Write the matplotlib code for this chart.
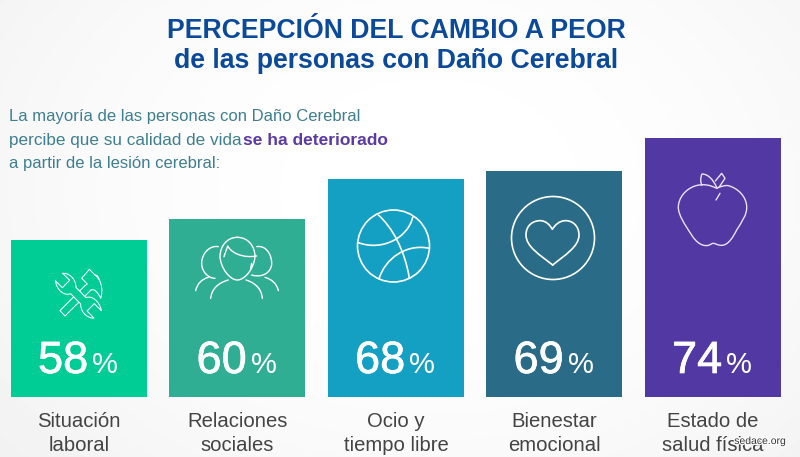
import numpy as np
import matplotlib
matplotlib.use("Agg")
import matplotlib.pyplot as plt
from matplotlib.path import Path
from matplotlib.patches import PathPatch, Circle
import matplotlib.patheffects as pe
import re

categories = ["Situación\nlaboral", "Relaciones\nsociales", "Ocio y\ntiempo libre", "Bienestar\nemocional", "Estado de\nsalud física"]
percent_values = [58, 60, 68, 69, 74]
bar_heights = [157, 178, 218, 226, 259]
bar_colors = ["#00cc96", "#30ae94", "#14a0c2", "#2a6c87", "#5238a2"]
title_lines = ["PERCEPCIÓN DEL CAMBIO A PEOR", "de las personas con Daño Cerebral"]

plt.rcParams['font.family'] = ['Liberation Sans', 'DejaVu Sans']
W, H = 800, 457
fig = plt.figure(figsize=(8, 4.57), dpi=100)

# background
bg = fig.add_axes([0, 0, 1, 1], zorder=0)
yy, xx = np.mgrid[0:H, 0:W]
d = np.sqrt(((xx - 430) / 560) ** 2 + ((yy - 190) / 420) ** 2)
v = 1 - 0.055 * np.clip(d, 0, 1.3) ** 2
bg.imshow(v, cmap='gray', vmin=0, vmax=1, aspect='auto', extent=(0, W, H, 0))
bg.axis('off')

# bars: category index on x, picture height on y, baseline at pixel row 397
ax = fig.add_axes([0, 0, 1, 1], zorder=1)
ax.patch.set_alpha(0)
ax.set_xlim(-79 / 158.5, (W - 79) / 158.5)
ax.set_ylim(397 - H, 397)
ax.axis('off')
xs = np.arange(len(categories))
ax.bar(xs, bar_heights, width=136 / 158.5, color=bar_colors, linewidth=0)

fig.canvas.draw()
r = fig.canvas.get_renderer()

def T(x, y, s, **kw):
    kw.setdefault('va', 'baseline')
    return fig.text(x / W, 1 - y / H, s, **kw)

for y, s in zip([38, 68], title_lines):
    T(396, y, s, fontsize=19.2, fontweight='bold', color='#0b4a9b', ha='center')

intro = '#3e7f8f'
T(9, 120.5, "La mayoría de las personas con Daño Cerebral", fontsize=12.0, color=intro)
T(9, 145, "percibe que su calidad de vida", fontsize=12.3, color=intro)
T(243, 145, "se ha deteriorado", fontsize=12.5, fontweight='bold', color='#5b3aa5')
T(9, 168, "a partir de la lesión cerebral:", fontsize=12.0, color=intro)

for i, (lab, val) in enumerate(zip(categories, percent_values)):
    cx = 79 + 158.5 * i
    a, b = lab.split("\n")
    T(cx, 427, a, fontsize=14.6, color='#444444', ha='center')
    T(cx, 451, b, fontsize=14.6, color='#444444', ha='center')
    n = T(cx - 41, 373, str(val), fontsize=32.5, color='white', ha='left', zorder=5,
          path_effects=[pe.withStroke(linewidth=0.5, foreground='white')])
    nx = n.get_window_extent(r).x1
    T(nx + 4, 373, "%", fontsize=21, color='white', ha='left', zorder=5)

T(760, 444, "sedace.org", fontsize=7.5, color='#333333', ha='center', zorder=6,
  path_effects=[pe.withStroke(linewidth=1.5, foreground='white')])

# icons, in picture pixels
ic = fig.add_axes([0, 0, 1, 1], zorder=3)
ic.patch.set_alpha(0)
ic.set_xlim(0, W)
ic.set_ylim(H, 0)
ic.axis('off')

def svg(d, ox, oy, s=1 / 3):
    toks = re.findall(r'[MCLZ]|-?[\d.]+', d)
    verts, codes = [], []
    i = 0
    cmd = None
    while i < len(toks):
        if toks[i] in 'MCLZ':
            cmd = toks[i]
            i += 1
            if cmd == 'Z':
                verts.append((0, 0))
                codes.append(Path.CLOSEPOLY)
            continue
        n = {'M': 1, 'L': 1, 'C': 3}[cmd]
        for k in range(n):
            verts.append((ox + s * float(toks[i]), oy + s * float(toks[i + 1])))
            i += 2
            codes.append({'M': Path.MOVETO, 'L': Path.LINETO, 'C': Path.CURVE4}[cmd])
    return Path(verts, codes)

def draw(d, ox, oy, lw=1.0, color='white', s=1 / 3):
    ic.add_patch(PathPatch(svg(d, ox, oy, s), fc='none', ec=color, lw=lw, capstyle='round', joinstyle='round'))

# ball
ic.add_patch(Circle((393.5, 246), 36, fc='none', ec='white', lw=1.2))
draw("M 175,255 C 215,290 255,360 268,445", 320, 130, 1.2)
draw("M 278,262 C 265,320 190,365 115,338", 320, 130, 1.2)
draw("M 177,447 C 195,385 260,340 328,355", 320, 130, 1.2)
# heart
ic.add_patch(Circle((553, 238), 41.5, fc='none', ec='white', lw=1.2))
draw("M 698,405 C 660,375 618,350 618,315 C 618,285 640,272 660,272 C 678,272 690,285 697,298 "
     "C 705,285 718,272 737,272 C 760,272 777,290 777,315 C 777,350 735,375 698,405", 320, 130, 1.2)
# apple
draw("M 1190,175 C 1170,165 1150,160 1125,168 C 1095,178 1075,205 1075,232 C 1075,255 1095,285 1115,315 "
     "C 1130,340 1150,350 1165,346 C 1172,344 1175,340 1180,340 C 1186,340 1192,346 1205,346 "
     "C 1225,346 1240,320 1250,300 C 1265,275 1282,255 1280,228 C 1278,200 1255,175 1225,167 "
     "C 1215,165 1200,170 1190,175", 320, 130, 1.0, '#e8e2f5')
draw("M 1190,172 C 1180,150 1165,132 1146,132 C 1140,145 1142,160 1146,166", 320, 130, 1.0, '#e8e2f5')
draw("M 1186,153 L 1205,130 L 1215,145 L 1197,172", 320, 130, 1.0, '#e8e2f5')
draw("M 1188,210 L 1200,190", 320, 130, 1.0, '#e8e2f5')
# people
for d in ["M 712,22 C 680,22 660,50 660,80 C 662,115 690,150 712,150 C 735,150 762,115 765,80 C 765,50 745,22 712,22",
          "M 672,80 L 683,48 C 695,70 730,85 770,78",
          "M 755,100 L 752,115",
          "M 655,50 C 630,45 605,70 605,100 C 605,125 625,145 645,145",
          "M 770,50 C 795,45 815,70 815,100 C 815,125 790,145 755,135",
          "M 587,182 C 592,160 605,148 625,142",
          "M 632,205 C 635,180 650,160 685,150",
          "M 787,205 C 785,180 770,160 738,150",
          "M 835,182 C 830,160 815,148 795,142"]:
    draw(d, 0, 230, 1.0)
# tools: wrench, then the hammer handle broken where it passes under, then the head
for d in ["M 188,130 C 205,128 228,145 228,172 L 258,203 C 275,195 300,215 304,242 L 283,221 L 261,243 L 282,264 "
          "C 265,266 242,249 242,222 L 212,191 C 195,199 170,182 166,152 L 187,173 L 209,151 L 188,130",
          "M 221.5,200 L 180,242 L 195,258 L 237,216",
          "M 239,183 L 255,167",
          "M 254.5,198.5 L 273,180",
          "M 255,167 L 262,162 L 245,145 L 268,118 L 285,135 C 305,150 310,180 302,205 C 295,190 285,175 273,180",
          "M 285,135 L 292,137 L 298,148"]:
    draw(d, 0, 230, 0.75)

fig.savefig("out.png", dpi=100)
